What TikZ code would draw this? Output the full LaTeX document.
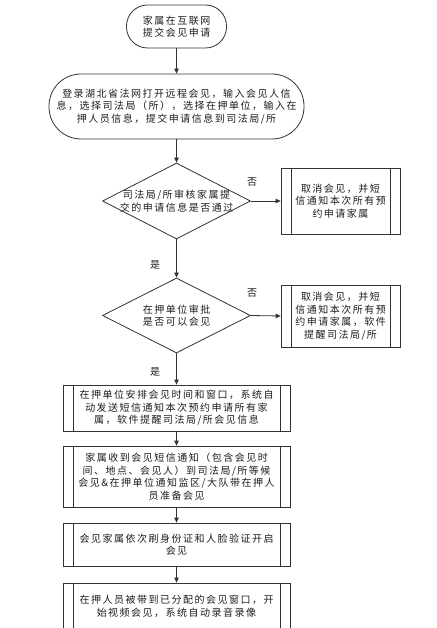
\documentclass[tikz,border=0pt]{standalone}
\usepackage{fontspec}
\setmainfont{Noto Sans CJK SC}[LetterSpace=15]
\usetikzlibrary{shapes.geometric,arrows.meta}
\definecolor{ln}{HTML}{333333}
\definecolor{tx}{HTML}{1E1E1E}
\tikzset{
  every node/.style={font=\fontsize{10}{12.5}\selectfont, text=tx},
  term/.style={draw=ln, line width=0.8pt, align=center, inner sep=0pt},
  procbox/.style={draw=ln, line width=0.8pt, align=center, inner sep=0pt,
    path picture={
      \draw[ln, line width=0.8pt] ([xshift=10pt]path picture bounding box.north west) -- ([xshift=10pt]path picture bounding box.south west);
      \draw[ln, line width=0.8pt] ([xshift=-10pt]path picture bounding box.north east) -- ([xshift=-10pt]path picture bounding box.south east);
    }},
  decision/.style={diamond, draw=ln, line width=0.8pt, inner sep=0pt},
  arr/.style={draw=ln, line width=0.8pt, -{Triangle[length=5pt,width=4.5pt]}},
  lbl/.style={inner sep=0pt}
}
\begin{document}
\begin{tikzpicture}[x=1pt,y=-1pt]
\useasboundingbox (0,0) rectangle (436,628);
\clip (0,0) rectangle (436,628);
\fill[white] (0,0) rectangle (436,628);

\node[term, rounded corners=21pt, minimum width=100pt, minimum height=43pt] (start) at (176.5,26.5)
  {家属在互联网\\提交会见申请};
\node[term, rounded corners=32pt, minimum width=255pt, minimum height=65pt] (login) at (176.5,106.5)
  {登录湖北省法网打开远程会见，输入会见人信\\息，选择司法局（所），选择在押单位，输入在\\押人员信息，提交申请信息到司法局/所};

\node[decision, minimum width=148pt, minimum height=76pt] (d1) at (176.5,201) {};
\node[lbl, align=center] (d1t) at (d1.center) {司法局/所审核家属提\\交的申请信息是否通过};
\node[procbox, minimum width=119pt, minimum height=66pt] (r1) at (340.5,201)
  {取消会见，并短\\信通知本次所有预\\约申请家属};

\node[decision, minimum width=148pt, minimum height=75pt] (d2) at (176.5,315.5) {};
\node[lbl, align=center] (d2t) at (d2.center) {在押单位审批\\是否可以会见};
\node[procbox, minimum width=119pt, minimum height=62pt] (r2) at (340.5,316)
  {取消会见，并短\\信通知本次所有预\\约申请家属，软件\\提醒司法局/所};

\node[procbox, minimum width=227pt, minimum height=46pt] (b3) at (176.5,408)
  {在押单位安排会见时间和窗口，系统自\\动发送短信通知本次预约申请所有家\\属，软件提醒司法局/所会见信息};
\node[procbox, minimum width=227pt, minimum height=61pt] (b4) at (176.5,476.5)
  {家属收到会见短信通知（包含会见时\\间、地点、会见人）到司法局/所等候\\会见\&在押单位通知监区/大队带在押人\\员准备会见};
\node[procbox, minimum width=227pt, minimum height=43pt] (b5) at (176.5,544.5)
  {会见家属依次刷身份证和人脸验证开启\\会见};
\node[procbox, minimum width=227pt, minimum height=47pt] (b6) at (176.5,606.5)
  {在押人员被带到已分配的会见窗口，开\\始视频会见，系统自动录音录像};

\draw[arr] (start.south) -- (login.north);
\draw[arr] (login.south) -- (d1.north);
\draw[arr] (d1.east) -- (r1.west);
\draw[arr] (d1.south) -- (d2.north);
\draw[arr] (d2.east) -- (r2.west);
\draw[arr] (d2.south) -- (b3.north);
\draw[arr] (b3.south) -- (b4.north);
\draw[arr] (b4.south) -- (b5.north);
\draw[arr] (b5.south) -- (b6.north);

\node[lbl] (no1) at (252,182) {否};
\node[lbl] (yes1) at (155,265) {是};
\node[lbl] (no2) at (252,293) {否};
\node[lbl] (yes2) at (155,372) {是};
\end{tikzpicture}
\end{document}
